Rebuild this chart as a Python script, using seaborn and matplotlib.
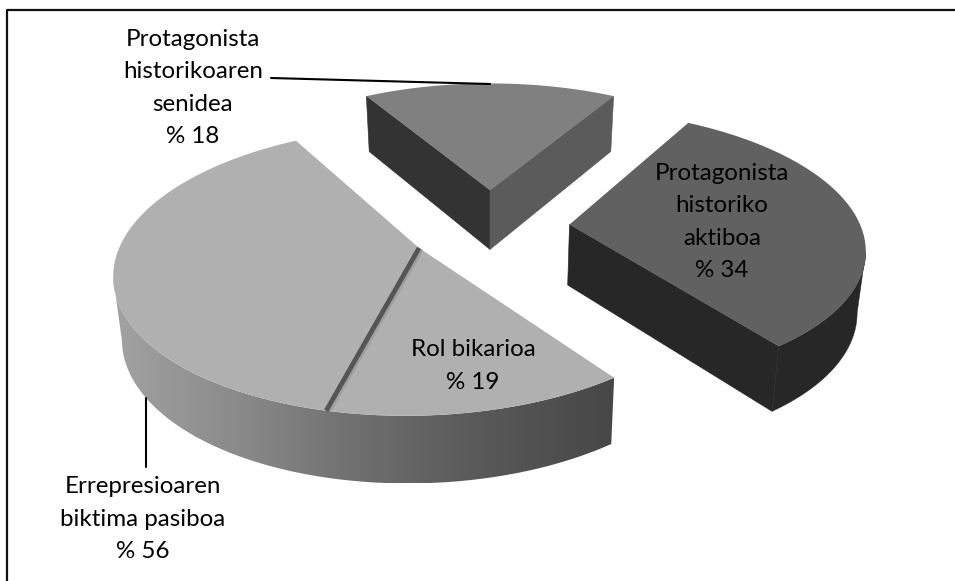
import numpy as np
import matplotlib
matplotlib.use("Agg")
import matplotlib.pyplot as plt
from matplotlib.patches import Polygon
import seaborn as sns

# chart values
slice_names = ["Protagonista\nhistorikoaren\nsenidea", "Protagonista\nhistoriko\naktiboa", "Errepresioaren\nbiktima pasiboa"]
slice_values = [18, 34, 56]
rol_name = "Rol bikarioa"
rol_label_value = 19
# share of the big slice cut off by the dark divider
rol_drawn_value = 14.9

sns.set_theme(style="white")
plt.rcParams['font.family'] = ['Lato', 'DejaVu Sans']

fig = plt.figure(figsize=(9.55, 5.81), dpi=100)
ax = fig.add_axes([0, 0, 1, 1])

# fake 3d camera, everything is in pie radius units
VX, VY = 490, 210
SCALE_X, SCALE_Y = 290, 130.5
PERSP = 0.154
THICK = 60
BOTTOM = 0.977
RADII = [0.985, 0.985, 0.99]
CENTER = (0.0, -0.125)
EXPLODE = [0.28, 0.27, 0.28]
START = -30


def project(x, y, lower=False):
    w = 1 + PERSP * y
    sx = VX + SCALE_X * x / w
    sy = VY - SCALE_Y * y / w
    if lower:
        sx = VX + (sx - VX) * BOTTOM
        sy = sy + THICK / w ** 0.55
    return np.column_stack([sx, sy])


def arc(apex, a0, a1, r, n=160):
    ang = np.radians(np.linspace(a0, a1, n))
    return apex[0] + r * np.sin(ang), apex[1] + r * np.cos(ang)


def wall(x0, y0, x1, y1, color, z):
    pts = np.vstack([project(np.array([x0, x1]), np.array([y0, y1])),
                     project(np.array([x1, x0]), np.array([y1, y0]), True)])
    ax.fill(pts[:, 0], pts[:, 1], color=color, lw=0.4, zorder=z)


def outer_path(xs, ys):
    return np.vstack([project(xs, ys), project(xs, ys, True)[::-1]])


# slice angles from the values
total = sum(slice_values)
edges = START + np.cumsum([0] + slice_values) / total * 360
mids = (edges[:-1] + edges[1:]) / 2
apexes = []
for m, e in zip(mids, EXPLODE):
    apexes.append((CENTER[0] + e * np.sin(np.radians(m)), CENTER[1] + e * np.cos(np.radians(m))))

side_grad = sns.blend_palette(["#a2a2a2", "#8a8a8a", "#6e6e6e", "#585858", "#474747"], as_cmap=True)
top_colors = ["#808080", "#616161", "#b0b0b0"]

for z, i in enumerate([0, 1, 2], start=2):
    apex = apexes[i]
    xs, ys = arc(apex, edges[i], edges[i + 1], RADII[i])
    sx = project(xs, ys)[:, 0]
    if i == 0:
        wall(apex[0], apex[1], xs[0], ys[0], "#333333", z)
        wall(apex[0], apex[1], xs[-1], ys[-1], "#5b5b5b", z)
    elif i == 1:
        # only the part of the round side from the right extreme to the corner shows
        k = np.argmax(sx)
        side = outer_path(xs[k:], ys[k:])
        ax.fill(side[:, 0], side[:, 1], color="#272727", lw=0.3, zorder=z)
        wall(apex[0], apex[1], xs[-1], ys[-1], "#272727", z)
    else:
        # gradient runs left to right along the round side
        k = np.argmin(sx)
        side = outer_path(xs[:k + 1], ys[:k + 1])
        clip = Polygon(side, closed=True, transform=ax.transData, fc="none", ec="none")
        ax.add_patch(clip)
        x0, x1 = side[:, 0].min(), side[:, 0].max()
        y0, y1 = side[:, 1].min(), side[:, 1].max()
        im = ax.imshow(np.linspace(0, 1, 256)[None, :], cmap=side_grad, extent=(x0, x1, y1, y0),
                       aspect="auto", zorder=z, interpolation="bilinear")
        im.set_clip_path(clip)
    pts = project(np.r_[apex[0], xs], np.r_[apex[1], ys])
    ax.fill(pts[:, 0], pts[:, 1], color=top_colors[i], lw=0, zorder=z)

ax.set_xlim(0, 955)
ax.set_ylim(581, 0)
ax.axis("off")

# divider inside the big slice
div_ang = edges[2] + rol_drawn_value / total * 360
xd, yd = arc(apexes[2], div_ang, div_ang, RADII[2], 2)
line = project(np.array([apexes[2][0], xd[0]]), np.array([apexes[2][1], yd[0]]))
ax.plot(line[:, 0] + 1.5, line[:, 1], color="#000000", alpha=0.10, lw=5, zorder=6, solid_capstyle="butt")
ax.plot(line[:, 0], line[:, 1], color="#555555", lw=3.4, zorder=7, solid_capstyle="butt")

# frame, only left and top are in the crop
ax.plot([7, 7, 955], [581, 10, 10], color="#111111", lw=1.6, zorder=1)

# leader lines
ax.plot([271, 490], [78, 84], color="black", lw=1.5, zorder=8)
ax.plot([146, 146], [398, 467], color="black", lw=1.5, zorder=8)

# labels
FS = 17.4
LS = 1.65
ax.text(193, 88, f"{slice_names[0]}\n% {slice_values[0]}", ha="center", va="center", fontsize=FS, linespacing=LS, color="black", zorder=9)
ax.text(722, 222, f"{slice_names[1]}\n% {slice_values[1]}", ha="center", va="center", fontsize=FS, linespacing=LS, color="black", zorder=9)
ax.text(473, 366, f"{rol_name}\n% {rol_label_value}", ha="center", va="center", fontsize=FS, linespacing=LS, color="black", zorder=9)
ax.text(143, 519, f"{slice_names[2]}\n% {slice_values[2]}", ha="center", va="center", fontsize=FS, linespacing=LS, color="black", zorder=9)

plt.savefig("out.png", dpi=100)
